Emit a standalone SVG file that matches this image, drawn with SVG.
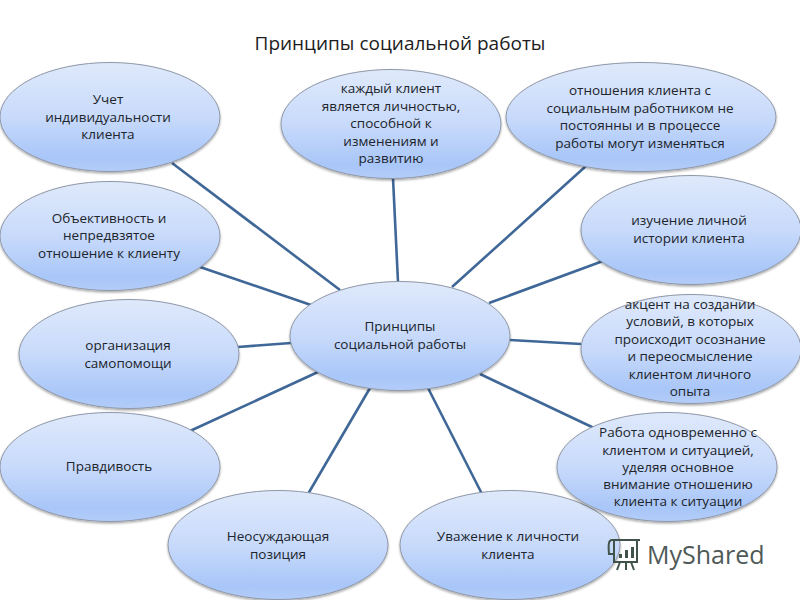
<svg xmlns="http://www.w3.org/2000/svg" width="800" height="600" viewBox="0 0 800 600">
<style>
text{font-family:"Open Sans","Noto Sans","Liberation Sans",sans-serif;font-size:13.5px;fill:#20242b;text-anchor:middle}
.t{font-size:19px;fill:#1c1c1c}
.n ellipse{fill:url(#g);stroke:#8f98a8;stroke-width:1;filter:url(#s)}
#connectors line{stroke:#3f6797;stroke-width:2.6}
</style>
<defs>
<linearGradient id="g" x1="0" y1="0" x2="0" y2="1">
<stop offset="0" stop-color="#dfe9fb"/><stop offset=".5" stop-color="#c8dafb"/><stop offset=".88" stop-color="#a8c6f8"/><stop offset="1" stop-color="#b4cdf9"/>
</linearGradient>
<filter id="s" x="-10%" y="-10%" width="120%" height="125%"><feDropShadow dx="0" dy="1.5" stdDeviation="1.2" flood-color="#000" flood-opacity=".35"/></filter>
</defs>
<rect width="800" height="600" fill="#fff"/>
<text class="t" x="400" y="50">Принципы социальной работы</text>
<g id="connectors">
<line x1="172" y1="163" x2="340" y2="290"/>
<line x1="200" y1="267" x2="311" y2="305"/>
<line x1="238" y1="347" x2="291" y2="343"/>
<line x1="190" y1="431" x2="318" y2="372"/>
<line x1="308" y1="494" x2="370" y2="388"/>
<line x1="482" y1="494" x2="428" y2="388"/>
<line x1="594" y1="428" x2="480" y2="374"/>
<line x1="581" y1="344" x2="510" y2="340"/>
<line x1="603" y1="261" x2="489" y2="303"/>
<line x1="586" y1="166" x2="452" y2="287"/>
<line x1="393" y1="178" x2="398" y2="282"/>
</g>
<g id="center" class="n"><ellipse cx="400" cy="336" rx="110" ry="54.500"/><text x="400" y="331">Принципы</text><text x="400" y="349">социальной работы</text></g>
<g id="n1" class="n"><ellipse cx="110" cy="117" rx="110" ry="54.500"/><text x="108" y="104">Учет</text><text x="108" y="122">индивидуальности</text><text x="108" y="139">клиента</text></g>
<g id="n2" class="n"><ellipse cx="110" cy="236" rx="110" ry="54.500"/><text x="109" y="223">Объективность и</text><text x="109" y="240">непредвзятое</text><text x="109" y="258">отношение к клиенту</text></g>
<g id="n3" class="n"><ellipse cx="129" cy="354" rx="110" ry="54.500"/><text x="128" y="350">организация</text><text x="128" y="368">самопомощи</text></g>
<g id="n4" class="n"><ellipse cx="110" cy="467" rx="110" ry="54.500"/><text x="109" y="471">Правдивость</text></g>
<g id="n5" class="n"><ellipse cx="278" cy="545" rx="110" ry="54.500"/><text x="278" y="541">Неосуждающая</text><text x="278" y="559">позиция</text></g>
<g id="n6" class="n"><ellipse cx="510" cy="545" rx="110" ry="54.500"/><text x="508" y="541">Уважение к личности</text><text x="508" y="559">клиента</text></g>
<g id="n7" class="n"><ellipse cx="667" cy="467" rx="110" ry="54.500"/><text x="678" y="437">Работа одновременно с</text><text x="678" y="455">клиентом и ситуацией,</text><text x="678" y="472">уделяя основное</text><text x="678" y="489">внимание отношению</text><text x="678" y="506">клиента к ситуации</text></g>
<g id="n8" class="n"><ellipse cx="691" cy="349" rx="110" ry="54.500"/><text x="690" y="309">акцент на создании</text><text x="690" y="326">условий, в которых</text><text x="690" y="344">происходит осознание</text><text x="690" y="361">и переосмысление</text><text x="690" y="379">клиентом личного</text><text x="690" y="396">опыта</text></g>
<g id="n9" class="n"><ellipse cx="691" cy="230" rx="110" ry="54.500"/><text x="689" y="225">изучение  личной</text><text x="689" y="243">истории клиента</text></g>
<g id="n10" class="n"><ellipse cx="641" cy="117" rx="135" ry="54.500"/><text x="640" y="95">отношения клиента с</text><text x="640" y="113">социальным работником не</text><text x="640" y="130">постоянны и в процессе</text><text x="640" y="148">работы могут изменяться</text></g>
<g id="n11" class="n"><ellipse cx="391" cy="124" rx="110" ry="54.500"/><text x="391" y="93">каждый клиент</text><text x="391" y="111">является личностью,</text><text x="391" y="128">способной к</text><text x="391" y="146">изменениям и</text><text x="391" y="163">развитию</text></g>
<g id="watermark">
<path d="M612 540h28M612 540c-3 0-4 3-3 14h6M614 540v22h23v-22M620 562l-3 8M631 562l3 8M626 562v8" fill="none" stroke="#41524a" stroke-width="2"/>
<path d="M619 558v-4h3v4zM625 558v-8h3v8zM631 558v-11h3v11z" fill="#41524a"/>
<text x="647" y="564" style="text-anchor:start;font-size:25px;fill:#4f5a58">MyShared</text>
</g>
</svg>
